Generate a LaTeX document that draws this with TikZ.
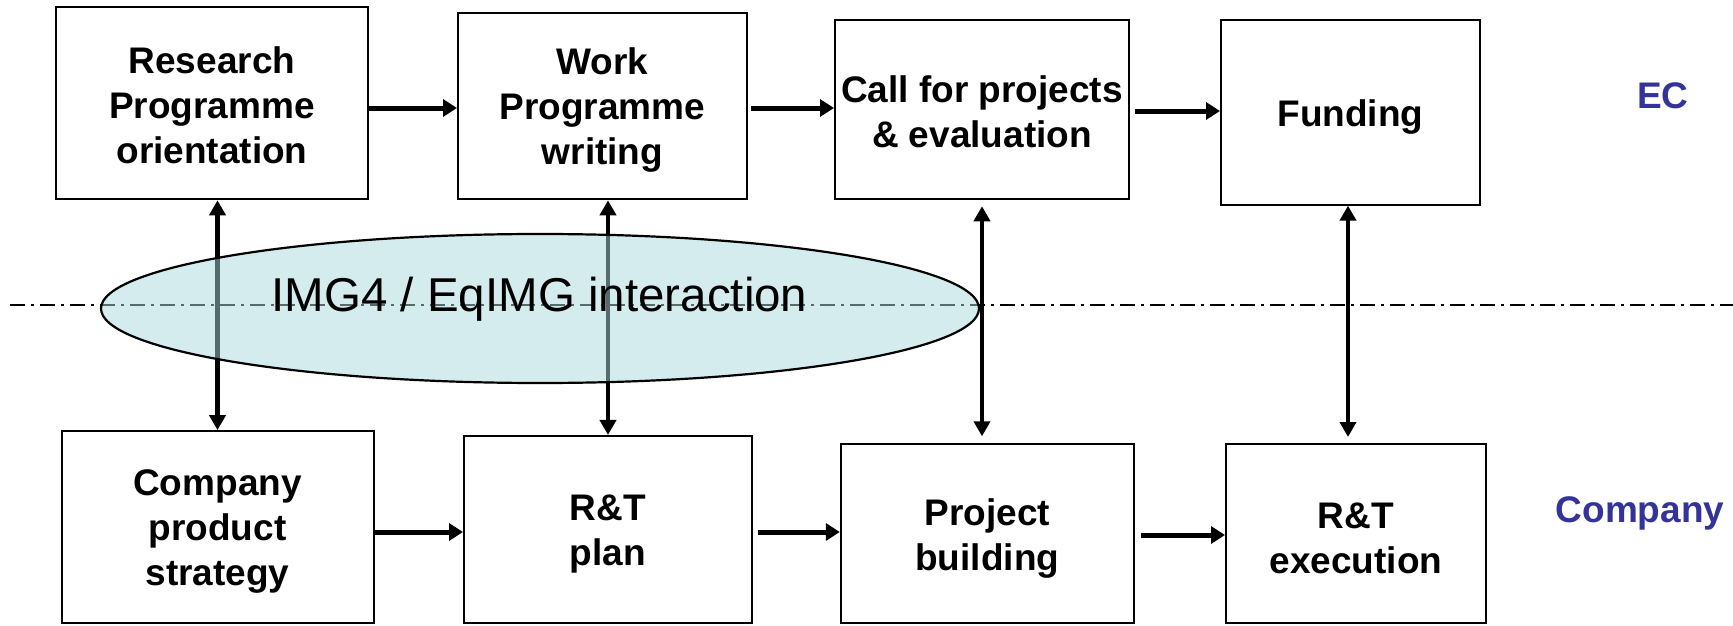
\documentclass[tikz,border=0pt]{standalone}
\usepackage{fontspec}
\setmainfont{Liberation Sans}
\usetikzlibrary{arrows.meta,calc,shapes.geometric}
\definecolor{ecblue}{RGB}{51,51,153}
\definecolor{ellfill}{RGB}{171,217,221}
\tikzset{
  box/.style={draw=black,line width=2pt,fill=white,inner sep=0pt},
  boxtext/.style={align=center,inner sep=0pt,font=\fontsize{37}{45}\selectfont\bfseries},
  harrow/.style={line width=5pt,-{Triangle[length=14pt,width=17pt]}},
  varrow/.style={line width=4.5pt,{Triangle[length=15pt,width=16pt]}-{Triangle[length=15pt,width=16pt]}},
  side/.style={text=ecblue,font=\fontsize{37}{44}\selectfont\bfseries,inner sep=0pt},
}
\begin{document}
\begin{tikzpicture}[x=1pt,y=-1pt]
\useasboundingbox (0,0) rectangle (1733,626);
% boxes
\node[box,minimum width=312.5pt,minimum height=192.6pt] (b1) at (212,103) {};
\node[box,minimum width=289pt,minimum height=186.6pt] (b2) at (602.5,106) {};
\node[box,minimum width=294pt,minimum height=179.3pt] (b3) at (982,109.6) {};
\node[box,minimum width=259pt,minimum height=184.7pt] (b4) at (1350.5,112.3) {};
\node[box,minimum width=312pt,minimum height=191.7pt] (b5) at (217.5,527) {};
\node[box,minimum width=288pt,minimum height=186.7pt] (b6) at (608,529.3) {};
\node[box,minimum width=293pt,minimum height=178.4pt] (b7) at (987.3,533.5) {};
\node[box,minimum width=260pt,minimum height=179pt] (b8) at (1356,533.5) {};
% box texts
\node[boxtext] (t1) at ([yshift=-2pt]b1.center) {Research\\Programme\\orientation};
\node[boxtext] (t2) at ([yshift=-4.5pt]b2.center) {Work\\Programme\\writing};
\node[boxtext] (t3) at ([yshift=-2pt]b3.center) {Call for projects\\\& evaluation};
\node[boxtext] (t4) at ([yshift=-4.4pt]b4.center) {Funding};
\node[boxtext] (t5) at ([yshift=-4.4pt]b5.center) {Company\\product\\strategy};
\node[boxtext] (t6) at ([yshift=-5pt]b6.center) {R\&T\\plan};
\node[boxtext] (t7) at ([yshift=-5pt]b7.center) {Project\\building};
\node[boxtext] (t8) at ([yshift=-5pt]b8.center) {R\&T\\execution};
% side labels
\node[side] (ec) at (1663,96) {EC};
\node[side,anchor=base] (co) at (1640,522) {Company};
% dash-dot line
\coordinate (dl) at (10,305);
\coordinate (dr) at (1733,305);
\draw[line width=1.7pt,dash pattern=on 15pt off 6pt on 3pt off 6pt] (dl) -- (dr);
% horizontal arrows
\draw[harrow] (b1.east |- 0,108) -- (b2.west |- 0,108);
\draw[harrow] ([xshift=3pt]b2.east |- 0,108) -- (b3.west |- 0,108);
\draw[harrow] ([xshift=5pt]b3.east |- 0,111) -- (b4.west |- 0,111);
\draw[harrow] (b5.east |- 0,532) -- (b6.west |- 0,532);
\draw[harrow] ([xshift=5pt]b6.east |- 0,532) -- (b7.west |- 0,532);
\draw[harrow] ([xshift=6pt]b7.east |- 0,535) -- (b8.west |- 0,535);
% vertical arrows
\draw[varrow] (b5.north |- b1.south) -- (b5.north);
\draw[varrow] (b6.north |- b2.south) -- (b6.north);
\draw[varrow,shorten <=6pt,shorten >=7pt] (b3.south) -- (b3.south |- b7.north);
\draw[varrow,shorten >=6pt] ([xshift=-2.5pt]b4.south) -- ([xshift=-2.5pt]b4.south |- b8.north);
% ellipse
\node[draw=black,line width=2.2pt,ellipse,fill=ellfill,fill opacity=0.5,draw opacity=1,
  minimum width=878pt,minimum height=149pt,inner sep=0pt] (ell) at (540,308.5) {};
\node[anchor=base,inner sep=0pt,font=\fontsize{47.5}{56}\selectfont] (lbl) at (539.5,311.2) {IMG4 / EqIMG interaction};
\end{tikzpicture}
\end{document}
